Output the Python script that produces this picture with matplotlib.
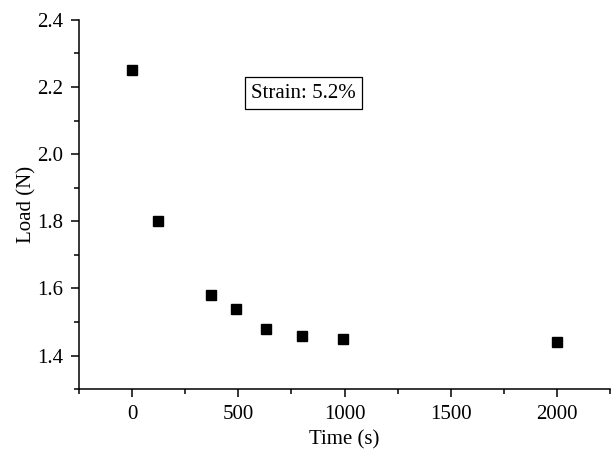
import matplotlib.pyplot as plt
from matplotlib.ticker import MultipleLocator

# stress relaxation data
time_s = [0, 120, 370, 490, 630, 800, 990, 2000]
load_n = [2.25, 1.80, 1.58, 1.54, 1.48, 1.46, 1.45, 1.44]

plt.rcParams['font.family'] = ['Liberation Serif', 'DejaVu Serif']

fig = plt.figure(figsize=(6.16, 4.5), dpi=100)
ax = fig.add_axes([0.128, 0.135, 0.863, 0.821])

ax.plot(time_s, load_n, 's', color='black', markersize=6.5)

ax.set_xlim(-250, 2250)
ax.set_ylim(1.3, 2.4)
ax.xaxis.set_major_locator(MultipleLocator(500))
ax.xaxis.set_minor_locator(MultipleLocator(250))
ax.yaxis.set_major_locator(MultipleLocator(0.2))
ax.yaxis.set_minor_locator(MultipleLocator(0.1))
ax.yaxis.set_major_formatter(plt.FormatStrFormatter('%.1f'))

ax.spines['top'].set_visible(False)
ax.spines['right'].set_visible(False)
for s in ['left', 'bottom']:
    ax.spines[s].set_linewidth(1.1)
ax.tick_params(which='major', direction='out', length=6, width=1.1, labelsize=15, pad=5)
ax.tick_params(which='minor', direction='out', length=3.5, width=1.1)

ax.set_xlabel('Time (s)', fontsize=15, labelpad=5)
ax.set_ylabel('Load (N)', fontsize=15, labelpad=1)

ax.text(806, 2.182, 'Strain: 5.2%', fontsize=15, ha='center', va='center',
        bbox=dict(boxstyle='square,pad=0.3', facecolor='white', edgecolor='black', linewidth=0.9))

fig.savefig('out.png', dpi=100)
